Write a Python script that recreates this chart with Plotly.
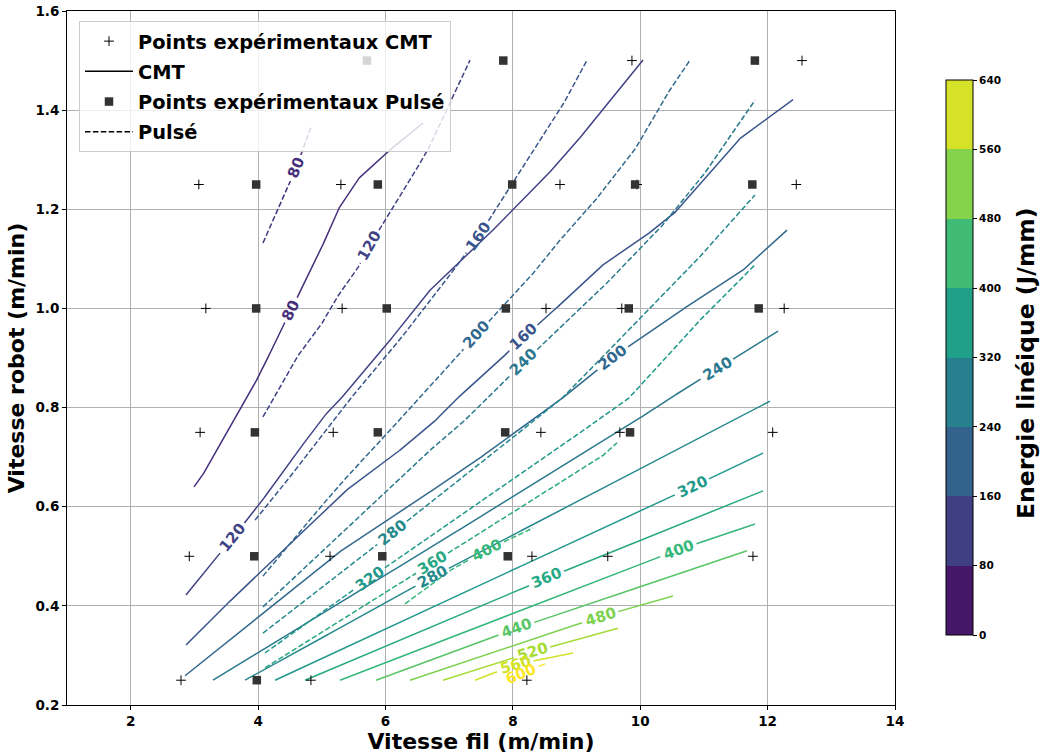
import numpy as np
import plotly.graph_objects as go
from plotly.colors import sample_colorscale

# ---------------- data ----------------
# Experimental points, CMT process: wire speed (m/min) and robot speed (m/min)
cmt_wire = [2.79, 4.83, 8.22,
            2.92, 5.13, 8.30, 9.49, 11.77,
            3.09, 5.18, 8.44, 9.68, 12.08,
            3.18, 5.32, 8.52, 9.71, 12.26,
            3.07, 5.30, 8.74, 9.95, 12.45,
            9.87, 12.54]
cmt_robot = [0.25, 0.25, 0.25,
             0.5, 0.5, 0.5, 0.5, 0.5,
             0.75, 0.75, 0.75, 0.75, 0.75,
             1.0, 1.0, 1.0, 1.0, 1.0,
             1.25, 1.25, 1.25, 1.25, 1.25,
             1.5, 1.5]

# Experimental points, Pulsé process
pulse_wire = [3.98,
              3.94, 5.95, 7.92,
              3.95, 5.88, 7.88, 9.84,
              3.97, 6.02, 7.89, 9.82, 11.86,
              3.97, 5.88, 7.99, 9.92, 11.76,
              5.71, 7.85, 11.80]
pulse_robot = [0.25,
               0.5, 0.5, 0.5,
               0.75, 0.75, 0.75, 0.75,
               1.0, 1.0, 1.0, 1.0, 1.0,
               1.25, 1.25, 1.25, 1.25, 1.25,
               1.5, 1.5, 1.5]

# Iso-energy lines (J/mm), CMT: one (wire, robot) path per level
cmt_levels = [80, 120, 160, 200, 240, 280, 320, 360, 400, 440, 480, 520, 560, 600]
cmt_path_wire = [
    [2.994, 3.104, 3.512, 3.748, 4.030, 4.501, 4.941, 5.255, 5.553, 6.071, 6.590],
    [2.868, 3.167, 3.591, 3.952, 4.187, 5.019, 5.239, 5.914, 6.652, 7.485, 8.270, 8.427, 8.898, 9.416, 10.044],
    [2.868, 3.481, 4.030, 5.129, 5.396, 6.071, 6.699, 7.061, 7.799, 8.160, 8.537, 9.369, 9.997, 10.515, 11.536, 12.399],
    [2.853, 4.658, 5.208, 7.218, 8.741, 9.557, 10.578, 11.567, 12.305],
    [3.292, 6.228, 9.636, 10.421, 11.206, 12.164],
    [3.795, 6.731, 12.038],
    [4.266, 10.813, 11.928],
    [4.737, 8.536, 11.928],
    [5.286, 10.593, 11.802],
    [5.852, 8.066, 11.677],
    [6.385, 9.369, 10.515],
    [6.904, 8.301, 9.651],
    [7.406, 8.034, 8.945],
    [7.861, 8.505],
]
cmt_path_robot = [
    [0.640, 0.658, 0.751, 0.801, 0.868, 0.993, 1.106, 1.199, 1.259, 1.320, 1.374],
    [0.422, 0.468, 0.537, 0.593, 0.634, 0.781, 0.809, 0.910, 1.031, 1.132, 1.233, 1.253, 1.320, 1.401, 1.501],
    [0.321, 0.400, 0.466, 0.603, 0.634, 0.698, 0.763, 0.811, 0.896, 0.942, 0.983, 1.084, 1.138, 1.189, 1.340, 1.421],
    [0.259, 0.446, 0.503, 0.674, 0.815, 0.900, 0.991, 1.072, 1.158],
    [0.250, 0.480, 0.749, 0.815, 0.878, 0.954],
    [0.250, 0.458, 0.813],
    [0.250, 0.640, 0.708],
    [0.250, 0.456, 0.632],
    [0.250, 0.513, 0.565],
    [0.250, 0.355, 0.511],
    [0.250, 0.378, 0.420],
    [0.250, 0.307, 0.355],
    [0.250, 0.281, 0.305],
    [0.250, 0.283],
]

# Iso-energy lines, Pulsé
pulse_levels = [80, 120, 160, 200, 240, 280, 320, 360, 400]
pulse_path_wire = [
    [4.077, 4.596, 4.831],
    [4.077, 4.611, 4.972, 5.208, 5.553, 5.726, 6.024, 6.652, 7.328],
    [3.952, 4.344, 5.365, 6.071, 6.778, 7.453, 7.987, 8.741, 9.165],
    [4.077, 5.208, 6.700, 7.422, 8.270, 8.631, 9.212, 9.887, 10.358, 10.782],
    [4.077, 6.024, 6.700, 7.171, 8.160, 9.369, 10.311, 10.939, 11.802],
    [4.077, 6.103, 8.741, 10.782, 11.802],
    [4.109, 5.757, 9.793, 10.782, 11.802],
    [4.109, 6.731, 8.003, 9.369, 9.636],
    [6.307, 6.966, 7.594, 8.317],
]
pulse_path_robot = [
    [1.132, 1.283, 1.366],
    [0.781, 0.902, 0.963, 1.017, 1.078, 1.122, 1.184, 1.316, 1.501],
    [0.573, 0.634, 0.805, 0.912, 1.027, 1.144, 1.251, 1.400, 1.501],
    [0.460, 0.634, 0.842, 0.946, 1.063, 1.122, 1.205, 1.314, 1.420, 1.501],
    [0.398, 0.634, 0.714, 0.765, 0.890, 1.037, 1.162, 1.259, 1.420],
    [0.345, 0.547, 0.815, 1.082, 1.229],
    [0.305, 0.456, 0.815, 0.956, 1.088],
    [0.275, 0.486, 0.589, 0.698, 0.729],
    [0.404, 0.468, 0.513, 0.557],
]

cbar_ticks = [0, 80, 160, 240, 320, 400, 480, 560, 640]

# inline label anchors (level, wire, robot)
cmt_label_lvl = [80, 120, 160, 200, 240, 280, 320, 360, 400, 440, 480, 520, 560, 600]
cmt_label_x = [4.50, 3.59, 8.16, 9.55, 11.20, 6.73, 10.81, 8.53, 10.59, 8.06, 9.37, 8.30, 8.03, 8.11]
cmt_label_y = [0.997, 0.537, 0.942, 0.900, 0.878, 0.458, 0.640, 0.456, 0.513, 0.355, 0.378, 0.307, 0.281, 0.267]
pulse_label_lvl = [80, 120, 160, 200, 240, 280, 320, 360, 400]
pulse_label_x = [4.59, 5.72, 7.45, 7.42, 8.16, 6.10, 5.75, 6.73, 7.59]
pulse_label_y = [1.283, 1.128, 1.144, 0.946, 0.892, 0.547, 0.456, 0.486, 0.513]

# ---------------- helpers ----------------
XR = (1.0, 14.0)
YR = (0.2, 1.6)
PL, PR, PT, PB = 67, 895, 11, 705


def to_px(x, y):
    return (PL + (np.asarray(x, float) - XR[0]) * (PR - PL) / (XR[1] - XR[0]),
            PB - (np.asarray(y, float) - YR[0]) * (PB - PT) / (YR[1] - YR[0]))


def to_data(px, py):
    return (XR[0] + (np.asarray(px) - PL) * (XR[1] - XR[0]) / (PR - PL),
            YR[0] + (PB - np.asarray(py)) * (YR[1] - YR[0]) / (PB - PT))


def densify_px(xs, ys):
    px, py = to_px(xs, ys)
    out = [(px[0], py[0])]
    for k in range(1, len(px)):
        L = np.hypot(px[k] - px[k - 1], py[k] - py[k - 1])
        n = max(1, int(np.ceil(L / 0.7)))
        for s in range(1, n + 1):
            t = s / n
            out.append((px[k - 1] + t * (px[k] - px[k - 1]), py[k - 1] + t * (py[k] - py[k - 1])))
    return np.array(out)


def color_of(level):
    return sample_colorscale('Viridis', [level / 600.0])[0]


LABEL_SIZE = 15
CHAR_W = 0.70 * LABEL_SIZE

fig = go.Figure()
annotations = []


def add_family(levels, pw, pr, lab_lvl, lab_x, lab_y, dash):
    for lev, xs, ys in zip(levels, pw, pr):
        d = densify_px(xs, ys)
        keep = np.ones(len(d), bool)
        col = color_of(lev)
        for L, lx, ly in zip(lab_lvl, lab_x, lab_y):
            if L != lev:
                continue
            cx, cy = to_px(lx, ly)
            dist = np.hypot(d[:, 0] - cx, d[:, 1] - cy)
            k = int(np.argmin(dist))
            k0, k1 = max(0, k - 8), min(len(d) - 1, k + 8)
            ang = np.degrees(np.arctan2(d[k1, 1] - d[k0, 1], d[k1, 0] - d[k0, 0]))
            if ang > 90:
                ang -= 180
            if ang <= -90:
                ang += 180
            half = len(str(lev)) * CHAR_W / 2 + 3
            r = np.hypot(d[:, 0] - d[k, 0], d[:, 1] - d[k, 1])
            keep &= r > half
            tx, ty = to_data(d[k, 0], d[k, 1])
            annotations.append(dict(x=float(tx), y=float(ty), text=str(lev), showarrow=False,
                                    textangle=float(ang), xanchor='center', yanchor='middle',
                                    font=dict(family='DejaVu Sans', size=LABEL_SIZE, color=col,
                                              weight='bold')))
        X, Y = [], []
        idx = np.where(keep)[0]
        splits = np.where(np.diff(idx) > 1)[0] + 1
        for piece in np.split(idx, splits):
            if len(piece) < 2:
                continue
            gx, gy = to_data(d[piece, 0], d[piece, 1])
            X += list(gx) + [None]
            Y += list(gy) + [None]
        fig.add_trace(go.Scatter(x=X, y=Y, mode='lines', showlegend=False, hoverinfo='skip',
                                 line=dict(color=col, width=1.5, dash=dash)))


DASH = '5.5px,2.4px'
add_family(cmt_levels, cmt_path_wire, cmt_path_robot, cmt_label_lvl, cmt_label_x, cmt_label_y, 'solid')
add_family(pulse_levels, pulse_path_wire, pulse_path_robot, pulse_label_lvl, pulse_label_x, pulse_label_y, DASH)

# experimental points + legend entries
fig.add_trace(go.Scatter(x=cmt_wire, y=cmt_robot, mode='markers', name='Points expérimentaux CMT',
                         legendgroup='a',
                         marker=dict(symbol='cross-thin', size=7, color='black',
                                     line=dict(color='black', width=1))))
fig.add_trace(go.Scatter(x=[None], y=[None], mode='lines', name='CMT', legendgroup='b',
                         line=dict(color='black', width=1.5)))
fig.add_trace(go.Scatter(x=pulse_wire, y=pulse_robot, mode='markers', name='Points expérimentaux Pulsé',
                         legendgroup='c',
                         marker=dict(symbol='square', size=8.5, color='#333333')))
fig.add_trace(go.Scatter(x=[None], y=[None], mode='lines', name='Pulsé', legendgroup='d',
                         line=dict(color='black', width=1.5, dash=DASH)))

# discrete colorbar
band_cols = sample_colorscale('Viridis', [(cbar_ticks[i] + cbar_ticks[i + 1]) / 2 / 640
                                          for i in range(len(cbar_ticks) - 1)])
cscale = []
nb = len(band_cols)
for i, c in enumerate(band_cols):
    cscale.append([i / nb, c])
    cscale.append([(i + 1) / nb, c])
fig.add_trace(go.Scatter(x=[None], y=[None], mode='markers', showlegend=False, hoverinfo='skip',
                         marker=dict(color=[0], cmin=0, cmax=640, colorscale=cscale, showscale=True,
                                     colorbar=dict(x=(946 - PL) / (PR - PL), xanchor='left',
                                                   y=(PB - 357.5) / (PB - PT), yanchor='middle',
                                                   len=555 / (PB - PT), lenmode='fraction',
                                                   thickness=27, xpad=0, ypad=0,
                                                   outlinewidth=1, outlinecolor='black',
                                                   tickvals=cbar_ticks, ticks='outside', ticklen=4,
                                                   tickcolor='black',
                                                   tickfont=dict(family='DejaVu Sans', size=10.5,
                                                                 color='black', weight='bold')))))

# colorbar title as a rotated text
annotations.append(dict(text='Energie linéique (J/mm)', xref='paper', yref='paper',
                        x=(1026 - PL) / (PR - PL), y=(PB - 363) / (PB - PT),
                        xanchor='center', yanchor='middle', textangle=-90, showarrow=False,
                        font=dict(family='DejaVu Sans', size=23.5, color='black', weight='bold')))

axis_common = dict(showgrid=True, gridcolor='#b0b0b0', gridwidth=1, showline=True, linecolor='black',
                   linewidth=1, mirror=True, ticks='outside', ticklen=4, tickcolor='black', zeroline=False,
                   automargin=False,
                   tickfont=dict(family='DejaVu Sans', size=13.5, color='black', weight='bold'))

fig.update_layout(
    width=1044, height=755,
    margin=dict(l=PL, r=1044 - PR, t=PT, b=755 - PB, autoexpand=False),
    plot_bgcolor='white', paper_bgcolor='white',
    xaxis=dict(range=list(XR), tickvals=[2, 4, 6, 8, 10, 12, 14], **axis_common,
               title=dict(text='Vitesse fil (m/min)', standoff=4,
                          font=dict(family='DejaVu Sans', size=22, color='black', weight='bold'))),
    yaxis=dict(range=list(YR), tickvals=[0.2, 0.4, 0.6, 0.8, 1.0, 1.2, 1.4, 1.6], tickformat='.1f',
               **axis_common,
               title=dict(text='Vitesse robot (m/min)', standoff=4,
                          font=dict(family='DejaVu Sans', size=22, color='black', weight='bold'))),
    legend=dict(x=(79 - PL) / (PR - PL), y=(PB - 21) / (PB - PT), xanchor='left', yanchor='top',
                bgcolor='rgba(255,255,255,0.8)', bordercolor='#cccccc', borderwidth=1,
                itemwidth=48, tracegroupgap=2,
                font=dict(family='DejaVu Sans', size=19.4, color='black', weight='bold')),
    annotations=annotations,
    showlegend=True,
)

fig.write_html('out.html', config={'displayModeBar': False},
               post_script="document.body.style.margin='0';document.body.style.padding='0';")
